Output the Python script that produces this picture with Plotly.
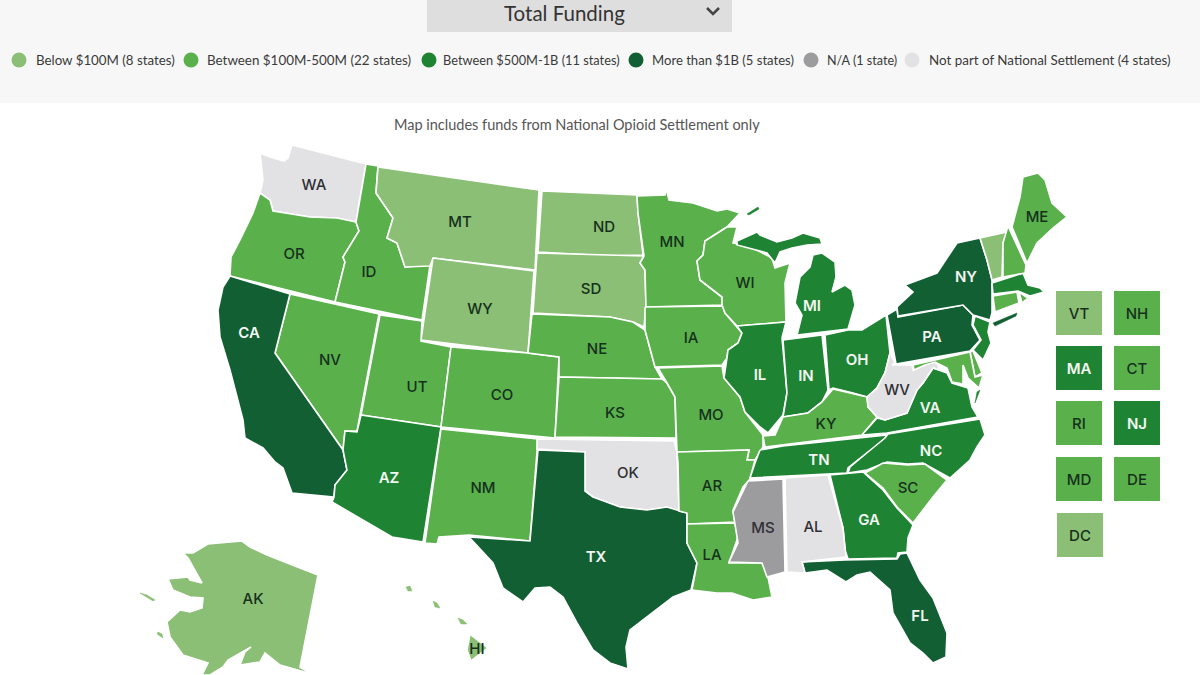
import plotly.graph_objects as go

# funding tier of every state
below_100m = ["MT", "WY", "ND", "SD", "AK", "HI", "VT", "DC"]
from_100m_500m = ["OR", "ID", "NV", "UT", "CO", "NM", "NE", "KS", "MN", "IA", "MO", "AR", "LA", "WI", "KY",
                  "SC", "ME", "NH", "CT", "RI", "MD", "DE"]
from_500m_1b = ["AZ", "IL", "IN", "MI", "OH", "TN", "VA", "NC", "GA", "MA", "NJ"]
above_1b = ["CA", "TX", "FL", "NY", "PA"]
not_available = ["MS"]
not_part = ["WA", "OK", "AL", "WV"]

legend_labels = ["Below $100M (8 states)", "Between $100M-500M (22 states)", "Between $500M-1B (11 states)",
                 "More than $1B (5 states)", "N/A (1 state)", "Not part of National Settlement (4 states)"]
tier_colors = ["#8bbf75", "#5ab14c", "#1e8433", "#125f33", "#9c9b9e", "#e2e2e4"]
tiers = [below_100m, from_100m_500m, from_500m_1b, above_1b, not_available, not_part]

# state outlines (x, y in page pixels)
WA = [(292,145),(366,164),(356,222),(337,218),(310,217),(290,214),(273,211),(270,200),(260,193),(263,180),
      (260,153),(270,157),(284,161),(288,158)]
OR = [(260,193),(270,200),(273,211),(290,214),(310,217),(337,218),(356,222),(359,231),(343,257),(345,262),
      (335,302),(230,276),(231,257),(240,240),(253,213)]
ID = [(366,164),(378,166),(376,193),(393,218),(387,238),(397,243),(405,267),(430,265),(422,320),(335,302),
      (345,262),(343,257),(359,231),(356,222)]
MT = [(378,167),(539,190),(535,270),(433,258),(430,266),(405,267),(397,243),(387,238),(393,218),(376,193)]
WY = [(433,258),(534,271),(528,353),(421,340)]
NV = [(290,294),(379,314),(357,431),(345,431),(343,450),(275,353)]
CA = [(230,276),(290,294),(275,353),(343,450),(347,470),(335,485),(334,497),(292,493),(283,468),(275,462),
      (263,448),(245,438),(243,420),(230,370),(220,337),(218,310),(223,287)]
UT = [(380,315),(422,321),(421,341),(451,347),(441,427),(361,415)]
CO = [(451,347),(528,353),(559,357),(555,438),(441,427)]
AZ = [(361,415),(441,427),(423,542),(392,537),(332,502),(334,497),(335,485),(347,470),(343,450),(345,431),(357,432)]
NM = [(441,429),(538,439),(530,541),(469,535),(439,537),(437,544),(425,543)]
ND = [(542,191),(637,195),(638,213),(643,255),(610,256),(538,252)]
SD = [(537,253),(644,256),(640,263),(645,270),(646,307),(644,327),(633,322),(610,317),(533,313)]
NE = [(532,314),(610,317),(633,322),(645,330),(655,367),(662,379),(559,377),(559,357),(528,353)]
KS = [(559,377),(662,379),(667,383),(675,397),(676,438),(555,437)]
OK = [(537,439),(674,441),(677,452),(679,511),(667,507),(647,510),(620,507),(593,497),(585,491),(585,452),(537,449)]
TX = [(538,450),(585,452),(585,491),(593,497),(620,507),(647,510),(667,507),(687,513),(687,543),(697,563),(691,590),
      (673,597),(647,617),(630,630),(626,647),(628,669),(610,663),(593,650),(577,623),(563,597),(550,587),(535,588),
      (523,602),(503,588),(493,563),(469,537),(530,541)]
MN = [(637,196),(665,195),(666,188),(669,200),(693,203),(717,211),(727,209),(740,213),(727,227),(705,241),(703,255),
      (697,261),(700,280),(722,297),(722,305),(646,307),(645,270),(640,263),(644,256),(638,213)]
IA = [(645,307),(723,306),(725,313),(742,333),(738,343),(728,350),(727,358),(722,365),(655,367),(645,330)]
MO = [(658,368),(722,366),(724,378),(740,397),(745,412),(763,435),(763,447),(755,460),(747,460),(749,450),(677,452),
      (675,397),(667,383)]
AR = [(677,452),(749,450),(747,460),(755,460),(750,479),(743,487),(733,510),(735,522),(687,524),(687,513),(679,511),(678,463)]
LA = [(687,524),(735,523),(738,537),(729,563),(762,563),(768,577),(772,597),(753,600),(732,593),(717,593),(692,590),
      (697,563),(687,543)]
WI = [(727,227),(737,227),(733,243),(753,248),(772,258),(775,268),(790,263),(785,283),(786,322),(737,326),(725,313),
      (722,305),(722,297),(700,280),(697,261),(703,255),(705,241)]
MI_UP = [(737,241),(757,232),(760,235),(777,242),(792,238),(803,233),(820,238),(822,244),(807,245),(792,248),(780,252),
         (775,263),(767,253),(737,245)]
MI_LP = [(813,255),(822,253),(835,262),(836,277),(832,292),(845,285),(852,290),(855,305),(848,329),(797,335),(802,315),
         (795,303),(800,277),(810,267)]
MI_ROYALE = [(747,214),(758,207),(759,209),(749,215)]
IL = [(737,326),(786,322),(782,338),(787,393),(783,415),(768,433),(760,427),(745,412),(740,397),(724,378),(727,358),
      (728,350),(738,343),(742,333)]
IN = [(783,340),(822,335),(828,390),(822,402),(808,413),(783,417),(787,393)]
OH = [(825,335),(848,330),(862,330),(886,315),(890,353),(885,373),(877,388),(867,397),(853,393),(833,388),(829,390)]
KY = [(833,389),(853,394),(867,397),(868,407),(877,417),(862,435),(783,445),(765,447),(763,436),(775,435),(783,417),
      (808,413),(822,402)]
TN = [(760,450),(783,446),(887,435),(883,442),(867,453),(848,468),(847,473),(750,478),(755,463)]
VA = [(862,435),(877,418),(885,420),(907,413),(917,390),(923,383),(933,368),(947,373),(952,383),(968,388),(972,407),
      (978,417),(887,433)]
VA_SHORE = [(980,390),(977,392),(975,403)]
NC = [(888,434),(980,419),(985,435),(977,447),(970,460),(950,478),(923,463),(908,464),(887,462),(867,470),(848,473),
      (850,467),(868,452),(885,438)]
SC = [(865,473),(883,463),(908,465),(925,464),(947,480),(933,497),(913,523),(897,507),(883,488)]
GA = [(830,475),(863,472),(883,490),(897,508),(913,525),(908,538),(907,552),(898,553),(897,558),(848,559),(845,550),(843,528)]
FL = [(802,562),(845,560),(897,559),(900,554),(907,553),(920,580),(933,598),(947,633),(946,657),(933,663),(923,653),
      (910,643),(893,613),(890,590),(870,572),(857,575),(846,582),(827,570),(805,573)]
AL = [(785,478),(828,475),(843,528),(846,557),(802,562),(805,573),(787,572)]
MS = [(748,481),(783,479),(785,572),(767,577),(762,563),(729,562),(738,543),(733,512)]
WV = [(892,365),(897,365),(912,365),(913,370),(928,362),(937,363),(940,370),(933,368),(923,383),(917,390),(907,413),
      (885,420),(877,417),(868,407),(867,397),(877,388),(885,373),(890,353),(895,363)]
PA = [(887,315),(897,309),(898,317),(963,305),(973,315),(972,325),(980,340),(970,351),(896,364)]
NY = [(980,238),(987,260),(992,280),(992,313),(990,320),(973,315),(963,305),(898,316),(897,307),(913,292),(905,285),
      (937,273),(957,243)]
NY_LONG_ISLAND = [(993,323),(1017,313),(1016,316),(995,326)]
NJ = [(975,316),(990,322),(988,332),(991,343),(983,360),(973,350),(981,340),(973,325)]
DE = [(970,352),(973,351),(982,373),(975,377)]
MD = [(913,365),(970,352),(975,377),(983,375),(979,388),(968,378),(963,365),(963,384),(952,382),(947,368),(935,362),
      (925,365),(914,370)]
CT = [(993,296),(1017,292),(1019,303),(995,312)]
RI = [(1019,292),(1028,298),(1022,303)]
MA = [(992,283),(1023,273),(1028,285),(1040,288),(1044,292),(1030,296),(1018,291),(993,294)]
VT = [(980,238),(1007,232),(1003,243),(1002,277),(992,280),(987,260)]
NH = [(1008,226),(1026,265),(1025,273),(1003,277),(1003,243)]
ME = [(1023,177),(1038,173),(1045,180),(1052,203),(1067,217),(1053,228),(1037,243),(1027,263),(1012,227),(1020,197)]
AK = [(183,553),(193,553),(208,544),(242,541),(250,547),(267,555),(300,568),(318,575),(300,667),(312,674),(280,665),
      (265,653),(260,662),(240,665),(245,652),(251,647),(228,660),(223,667),(210,675),(202,675),(208,663),(198,660),
      (183,655),(170,637),(167,622),(180,610),(190,612),(202,608),(203,598),(190,597),(173,590),(168,579),(188,577),
      (190,580),(202,583),(188,558)]
AK_ISLE_A = [(140,593),(153,601),(155,600),(147,595)]
AK_ISLE_B = [(157,634),(163,638),(162,634),(158,632)]
HI = [(470,634),(488,648),(471,661),(467,650)]
HI_KAUAI = [(406,587),(410,586),(412,591),(408,591)]
HI_OAHU = [(433,601),(437,603),(440,608),(435,607)]
HI_MAUI = [(458,618),(463,620),(467,624),(461,624)]

outlines = {"WA": [WA], "OR": [OR], "ID": [ID], "MT": [MT], "WY": [WY], "NV": [NV], "CA": [CA], "UT": [UT], "CO": [CO],
            "AZ": [AZ], "NM": [NM], "ND": [ND], "SD": [SD], "NE": [NE], "KS": [KS], "OK": [OK], "TX": [TX], "MN": [MN],
            "IA": [IA], "MO": [MO], "AR": [AR], "LA": [LA], "WI": [WI], "MI": [MI_UP, MI_LP], "IL": [IL],
            "IN": [IN], "OH": [OH], "KY": [KY], "TN": [TN], "VA": [VA], "NC": [NC], "SC": [SC], "GA": [GA],
            "FL": [FL], "AL": [AL], "MS": [MS], "WV": [WV], "PA": [PA], "NY": [NY], "NJ": [NJ], "DE": [DE],
            "MD": [MD], "CT": [CT], "RI": [RI], "MA": [MA], "VT": [VT], "NH": [NH], "ME": [ME],
            "AK": [AK], "HI": [HI]}
# too small to carry a white border
specks = {"MI": [MI_ROYALE], "VA": [VA_SHORE], "NY": [NY_LONG_ISLAND], "AK": [AK_ISLE_A, AK_ISLE_B],
          "HI": [HI_KAUAI, HI_OAHU, HI_MAUI]}

# where the state abbreviations sit
label_names = ["WA", "OR", "CA", "ID", "MT", "NV", "UT", "WY", "CO", "AZ", "NM", "ND", "SD", "NE", "KS", "OK", "TX", "MN",
               "IA", "MO", "AR", "LA", "WI", "IL", "MI", "IN", "OH", "KY", "TN", "MS", "AL", "GA", "FL", "SC", "NC", "VA",
               "WV", "PA", "NY", "ME", "AK", "HI"]
label_x = [314, 294, 249, 369, 460, 330, 417, 480, 502, 389, 483, 604, 591, 597, 615, 628, 596, 672,
           691, 711, 712, 712, 745, 760, 812, 806, 857, 826, 819, 763, 813, 869, 920, 908, 931, 930,
           897, 932, 966, 1037, 253, 477]
label_y = [186, 255, 334, 273, 223, 361, 388, 310, 396, 479, 489, 228, 290, 350, 414, 474, 558, 243,
           339, 416, 487, 556, 284, 376, 307, 377, 361, 425, 461, 529, 528, 521, 617, 489, 452, 409,
           391, 338, 278, 218, 600, 650]

# small states repeated as tiles at the right
tile_names = ["VT", "NH", "MA", "CT", "RI", "NJ", "MD", "DE", "DC"]
tile_x = [1079, 1137, 1079, 1137, 1079, 1137, 1079, 1137, 1080]
tile_y = [313, 313, 368, 368, 423, 423, 479, 479, 535]

legend_dot_x = [19, 191, 429, 636, 811, 912]
legend_text_x = [36, 207, 443, 652, 827, 929]
legend_text_sizes = [13.3, 13.4, 12.8, 13.1, 12.6, 13.4]

FONT = "Lato"
tier_of = {}
for names, color in zip(tiers, tier_colors):
    for n in names:
        tier_of[n] = color


def text_color(color):
    if color in ("#1e8433", "#125f33"):
        return "#f4f7f2"
    if color in ("#9c9b9e", "#e2e2e4"):
        return "#2f2f35"
    return "#16301c"


def add_poly(fig, part, color, line_color="#ffffff", line_width=1.6):
    xs = [p[0] for p in part] + [part[0][0]]
    ys = [p[1] for p in part] + [part[0][1]]
    fig.add_trace(go.Scatter(x=xs, y=ys, mode="lines", fill="toself", fillcolor=color,
                             line=dict(color=line_color, width=line_width), hoverinfo="skip", showlegend=False))


fig = go.Figure()

for state, parts in outlines.items():
    for part in parts:
        add_poly(fig, part, tier_of[state])
for state, parts in specks.items():
    for part in parts:
        add_poly(fig, part, tier_of[state], line_color=tier_of[state], line_width=0.5)

for n, x, y in zip(tile_names, tile_x, tile_y):
    add_poly(fig, [(x - 23, y - 22), (x + 23, y - 22), (x + 23, y + 22), (x - 23, y + 22)], tier_of[n],
             line_color=tier_of[n], line_width=0)

# state labels
for names, xs, ys in [(label_names, label_x, label_y), (tile_names, tile_x, [y + 2 for y in tile_y])]:
    fig.add_trace(go.Scatter(x=xs, y=ys, mode="text", text=names, textposition="middle center",
                             textfont=dict(family="Inter", size=15, color=[text_color(tier_of[n]) for n in names],
                                           weight=[600 if text_color(tier_of[n]) == "#f4f7f2" else 500 for n in names]),
                             hoverinfo="skip", showlegend=False))

# legend row
fig.add_trace(go.Scatter(x=legend_dot_x, y=[60] * 6, mode="markers", marker=dict(size=15, color=tier_colors),
                         hoverinfo="skip", showlegend=False))
fig.add_trace(go.Scatter(x=legend_text_x, y=[62] * 6, mode="text", text=legend_labels, textposition="middle right",
                         textfont=dict(family=FONT, size=legend_text_sizes, color="#3a3a3a"),
                         hoverinfo="skip", showlegend=False))

# dropdown chevron
fig.add_trace(go.Scatter(x=[707, 713, 719], y=[8, 14, 8], mode="lines", line=dict(color="#444444", width=2.5),
                         hoverinfo="skip", showlegend=False))

fig.update_layout(
    width=1200, height=675, margin=dict(l=0, r=0, t=0, b=0),
    paper_bgcolor="#ffffff", plot_bgcolor="#ffffff",
    xaxis=dict(range=[0, 1200], visible=False, fixedrange=True),
    yaxis=dict(range=[675, 0], visible=False, fixedrange=True),
    shapes=[
        dict(type="rect", xref="x", yref="y", x0=0, x1=1200, y0=0, y1=103, fillcolor="#f7f7f7", line_width=0, layer="below"),
        dict(type="rect", xref="x", yref="y", x0=427, x1=732, y0=-2, y1=32, fillcolor="#dedede", line_width=0, layer="below"),
    ],
    annotations=[
        dict(x=564, y=13, xref="x", yref="y", text="Total Funding", showarrow=False,
             font=dict(family=FONT, size=20.5, color="#333333")),
        dict(x=577, y=124, xref="x", yref="y", text="Map includes funds from National Opioid Settlement only",
             showarrow=False, font=dict(family=FONT, size=14.5, color="#555555")),
    ],
)

# the page's default body margin would push the figure 8px off the window edge
fig.write_html("out.html", config={"displayModeBar": False}, post_script="document.body.style.margin = '0';")
